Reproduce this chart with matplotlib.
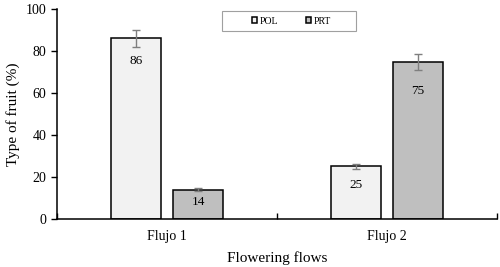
import numpy as np
import matplotlib
matplotlib.use("Agg")
import matplotlib.pyplot as plt
from matplotlib.patches import Rectangle

plt.rcParams['font.family'] = ['Liberation Serif', 'DejaVu Serif']

# datos
flujos = ["Flujo 1", "Flujo 2"]
series = ["POL", "PRT"]
pol = [86, 25]
prt = [14, 75]
pol_err = [4.2, 1.0]
prt_err = [0.6, 3.8]
colores = ["#f2f2f2", "#bfbfbf"]
# desplazamiento de las etiquetas (puntos)
pol_lab_off = [-16, -13]
prt_lab_off = [-9, -21]

fig = plt.figure(figsize=(5, 2.67), dpi=100)
ax = fig.add_axes([0.114, 0.18, 0.88, 0.786])

x = np.arange(1, len(flujos) + 1)
ancho = 0.223
desp = 0.141

for i, (vals, errs, offs) in enumerate([(pol, pol_err, pol_lab_off), (prt, prt_err, prt_lab_off)]):
    pos = x + (-desp if i == 0 else desp)
    ax.bar(pos, vals, width=ancho, color=colores[i], edgecolor="black",
           linewidth=1.1, label=series[i], zorder=2)
    ax.errorbar(pos, vals, yerr=errs, fmt="none", ecolor="#7f7f7f",
                elinewidth=1.0, capsize=3, capthick=1.0, zorder=3)
    for p, v, o in zip(pos, vals, offs):
        ax.annotate(str(v), (p, v), xytext=(0, o), textcoords="offset points",
                    ha="center", va="center", fontsize=9.5)

ax.set_xlim(0.5, 2.5)
ax.set_ylim(0, 100)
ax.set_yticks(range(0, 101, 20))
ax.tick_params(axis="y", direction="out", length=4, width=1, labelsize=10)
ax.set_xticks(x)
ax.set_xticklabels(flujos, fontsize=10)
ax.tick_params(axis="x", length=0, pad=8)
ax.set_xticks([0.5, 1.5, 2.5], minor=True)
ax.tick_params(axis="x", which="minor", direction="in", length=4, width=1)

for s in ["top", "right"]:
    ax.spines[s].set_visible(False)
for s in ["left", "bottom"]:
    ax.spines[s].set_linewidth(1.1)

ax.set_ylabel("Type of fruit (%)", fontsize=11)
ax.set_xlabel("Flowering flows", fontsize=11, labelpad=6)

# leyenda con marco aparte
ax.add_patch(Rectangle((0.375, 0.895), 0.305, 0.095, transform=ax.transAxes,
                       facecolor="white", edgecolor="#a0a0a0", linewidth=0.8,
                       zorder=4, clip_on=False))
leg = ax.legend(loc="center", bbox_to_anchor=(0.5325, 0.9425), ncol=2,
                fontsize=7, frameon=False,
                handlelength=0.55, handleheight=0.55, handletextpad=0.2,
                columnspacing=2.9, borderpad=0, borderaxespad=0)
leg.set_zorder(5)

fig.savefig("out.png", dpi=100)
